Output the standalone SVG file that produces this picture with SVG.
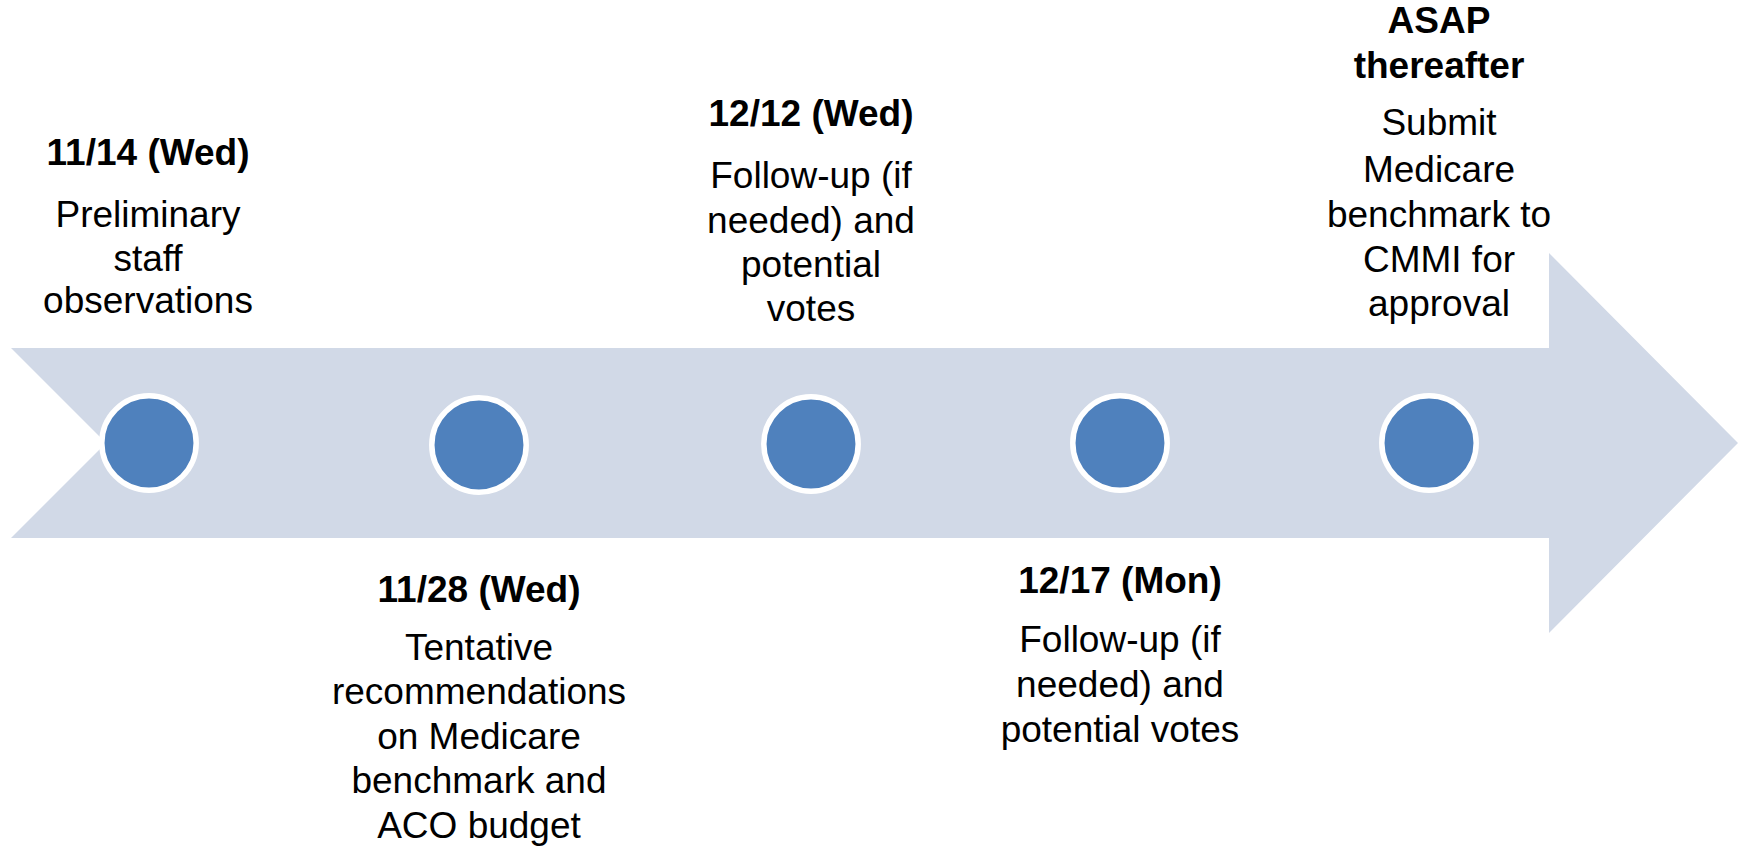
<svg xmlns="http://www.w3.org/2000/svg" width="1743" height="846" viewBox="0 0 1743 846">
<style>
.arrow{fill:#D1D9E7;}
.dot{fill:#4F81BD;stroke:#FFFFFF;stroke-width:5.5;}
text{font-family:"Liberation Sans",Arial,sans-serif;font-size:37px;fill:#000000;text-anchor:middle;}
.t{font-weight:bold;}
</style>
<rect width="1743" height="846" fill="#FFFFFF"/>
<g id="timeline-arrow">
<polygon class="arrow" points="11,348 1549,348 1549,253 1738,443 1549,633 1549,538 11,538 106,443"/>
</g>
<g id="connectors"></g>
<g id="node1">
<circle class="dot" cx="149" cy="443" r="47.2"/>
<text class="t" x="148" y="165">11/14 (Wed)</text>
<text x="148" y="226.7">Preliminary</text>
<text x="148" y="270.7">staff</text>
<text x="148" y="313.3">observations</text>
</g>
<g id="node2">
<circle class="dot" cx="479" cy="445" r="47.2"/>
<text class="t" x="479" y="602">11/28 (Wed)</text>
<text x="479" y="659.5">Tentative</text>
<text x="479" y="704">recommendations</text>
<text x="479" y="748.5">on Medicare</text>
<text x="479" y="793">benchmark and</text>
<text x="479" y="837.5">ACO budget</text>
</g>
<g id="node3">
<circle class="dot" cx="811" cy="444" r="47.2"/>
<text class="t" x="811" y="125.7">12/12 (Wed)</text>
<text x="811" y="188.3">Follow-up (if</text>
<text x="811" y="232.7">needed) and</text>
<text x="811" y="276.7">potential</text>
<text x="811" y="320.7">votes</text>
</g>
<g id="node4">
<circle class="dot" cx="1120" cy="443" r="47.2"/>
<text class="t" x="1120" y="593.3">12/17 (Mon)</text>
<text x="1120" y="652.3">Follow-up (if</text>
<text x="1120" y="696.7">needed) and</text>
<text x="1120" y="741.7">potential votes</text>
</g>
<g id="node5">
<circle class="dot" cx="1429" cy="443" r="47.2"/>
<text class="t" x="1439" y="33.3">ASAP</text>
<text class="t" x="1439" y="78.3">thereafter</text>
<text x="1439" y="135">Submit</text>
<text x="1439" y="181.7">Medicare</text>
<text x="1439" y="226.7">benchmark to</text>
<text x="1439" y="271.7">CMMI for</text>
<text x="1439" y="316">approval</text>
</g>
</svg>
